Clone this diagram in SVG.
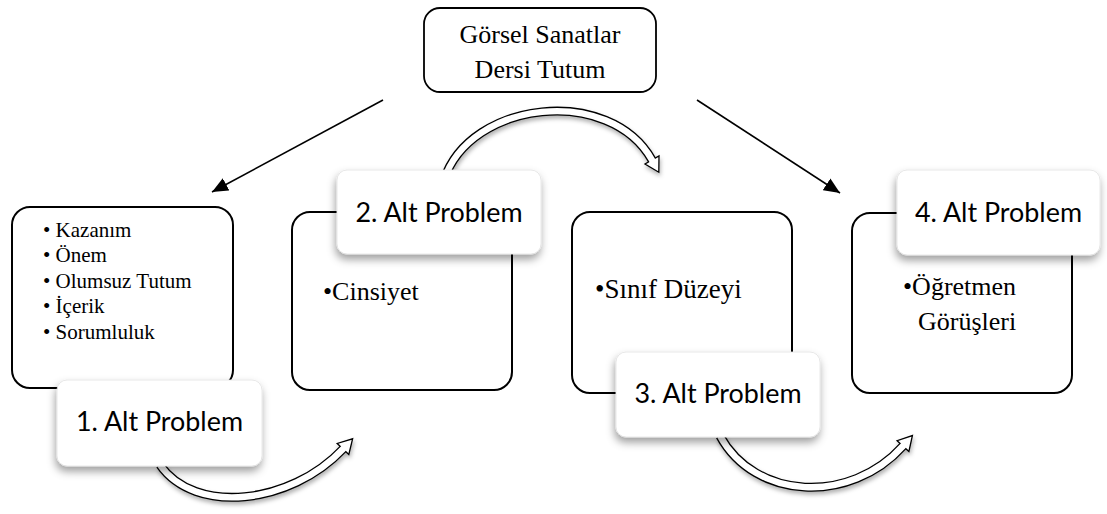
<svg xmlns="http://www.w3.org/2000/svg" width="1107" height="514" viewBox="0 0 1107 514">
<style>
.box{fill:none;stroke:#000;stroke-width:2}
.top{fill:#fff;stroke:#000;stroke-width:1.8}
.lab{fill:#fff;stroke:#e2e2e2;stroke-width:0.8}
.tnr{font-family:"Liberation Serif","Times New Roman",serif;fill:#000}
.cal{font-family:Lato,"Open Sans","Liberation Sans",sans-serif;font-size:26px;fill:#000}
.line{stroke:#000;stroke-width:1.6;fill:none}
.sk{fill:none;stroke:#000;stroke-width:9}
.sw{fill:none;stroke:#fff;stroke-width:6.4}
.hd{fill:#fff;stroke:#000;stroke-width:1.3;stroke-linejoin:miter}
</style>
<defs>
<marker id="ah" markerUnits="userSpaceOnUse" markerWidth="17" markerHeight="14" refX="16" refY="7" orient="auto">
<path d="M0,0 L16,7 L0,14 z" fill="#000"/>
</marker>
<filter id="sh" x="-20%" y="-20%" width="140%" height="160%">
<feDropShadow dx="-1" dy="5" stdDeviation="4" flood-color="#000" flood-opacity="0.38"/>
</filter>
<filter id="ash" x="-20%" y="-20%" width="140%" height="160%">
<feDropShadow dx="1" dy="3" stdDeviation="2" flood-color="#000" flood-opacity="0.3"/>
</filter>
</defs>
<rect width="1107" height="514" fill="#fff"/>

<g id="connectors">
<line class="line" x1="383" y1="100" x2="212" y2="192" marker-end="url(#ah)"/>
<line class="line" x1="697" y1="100" x2="840" y2="193" marker-end="url(#ah)"/>
<g id="arrowA" filter="url(#ash)">
<path class="sk" d="M444,180 C470,100 610,85 652,160"/>
<polygon class="hd" points="658.8,172.2 659,156 645,164"/>
<path class="sw" d="M444,180 C470,100 610,85 652,160 l1,2"/>
</g>
<g id="arrowB" filter="url(#ash)">
<path class="sk" d="M160,465 C195,515 290,505 343,449"/>
<polygon class="hd" points="352.6,438.8 348.8,454.5 337.2,443.5"/>
<path class="sw" d="M160,465 C195,515 290,505 343,449 l1.4,-1.4"/>
</g>
<g id="arrowC" filter="url(#ash)">
<path class="sk" d="M720,436 C755,500 850,505 903,446"/>
<polygon class="hd" points="912.4,435.6 908.9,451.4 897.1,440.7"/>
<path class="sw" d="M720,436 C755,500 850,505 903,446 l1.3,-1.5"/>
</g>
</g>

<g id="n0">
<rect class="top" x="424" y="8" width="232" height="84" rx="16"/>
<text class="tnr" font-size="26" text-anchor="middle" x="540" y="43">Görsel Sanatlar</text>
<text class="tnr" font-size="26" text-anchor="middle" x="540" y="78">Dersi Tutum</text>
</g>

<g id="n1">
<rect class="box" x="12" y="207" width="221" height="181" rx="18"/>
<g class="tnr" font-size="21">
<text x="43" y="237">• Kazanım</text>
<text x="43" y="262">• Önem</text>
<text x="43" y="288">• Olumsuz Tutum</text>
<text x="43" y="313">• İçerik</text>
<text x="43" y="339">• Sorumluluk</text>
</g>
<rect class="lab" filter="url(#sh)" x="57" y="380" width="205" height="86" rx="10"/>
<text class="cal" x="159.5" y="431" text-anchor="middle" textLength="167" lengthAdjust="spacingAndGlyphs">1. Alt Problem</text>
</g>

<g id="n2">
<rect class="box" x="292" y="212" width="220" height="178" rx="18"/>
<text class="tnr" font-size="26" x="323" y="300">•Cinsiyet</text>
<rect class="lab" filter="url(#sh)" x="337" y="170" width="204" height="84" rx="10"/>
<text class="cal" x="439" y="222" text-anchor="middle" textLength="167" lengthAdjust="spacingAndGlyphs">2. Alt Problem</text>
</g>

<g id="n3">
<rect class="box" x="572" y="212" width="220" height="181" rx="18"/>
<text class="tnr" font-size="27" x="595" y="298">•Sınıf Düzeyi</text>
<rect class="lab" filter="url(#sh)" x="616" y="352" width="204" height="85" rx="10"/>
<text class="cal" x="718" y="403" text-anchor="middle" textLength="167" lengthAdjust="spacingAndGlyphs">3. Alt Problem</text>
</g>

<g id="n4">
<rect class="box" x="852" y="213" width="220" height="180" rx="18"/>
<text class="tnr" font-size="26" x="903" y="295">•Öğretmen</text>
<text class="tnr" font-size="26" x="918" y="330">Görüşleri</text>
<rect class="lab" filter="url(#sh)" x="897" y="170" width="203" height="85" rx="10"/>
<text class="cal" x="998.5" y="222" text-anchor="middle" textLength="167" lengthAdjust="spacingAndGlyphs">4. Alt Problem</text>
</g>
</svg>
